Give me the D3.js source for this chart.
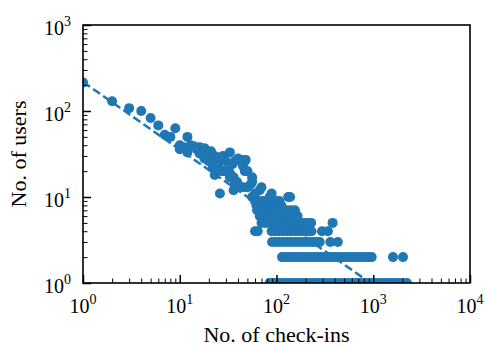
<!DOCTYPE html>
<html>
<head>
<meta charset="utf-8">
<style>
  body { margin: 0; background: #fff; }
  text { font-family: "Liberation Serif", "Times New Roman", serif; fill: #000; }
  .dot { fill: #1f77b4; }
  .fit { fill: none; stroke: #1f77b4; stroke-width: 2.5; stroke-dasharray: 8.5 3.8; }
</style>
</head>
<body>
<script src="https://cdn.jsdelivr.net/npm/d3@7"></script>
<script>
// scattered users (check-ins, users) pairs
var sparseCheckins = [1,2,3,4,5,6,7,8,9,10,10,11,12,12,13,14,15,16,16,17,18,18,19,20,20,21,22,22,23,23,24,24,25,26,26,27,28,29,30,31,33,33,33,35,36,36,37,37,39,40,40,42,44,45,45,47,47,48,50,50,54,56,56,56,57,60,67,70,85,89,97,132,138,72,76];
var sparseUsers    = [215,130,108,100,83,68,53,50,63,40,36,38,50,33,40,39,36,38,32,35,37,28,33,31,26,34,31,22,27,18,29,25,24,29,11,20,30,20,26,20,33,19,17,24,17,12,26,14,15,14,28,27,27,23,13,26,20,27,20,13,14,15,17,10,10,11,12,13,10,11,9,10,10,8,7];

// rows of users with the same count (check-in values per row)
var usersRow9 = [60,66,73,80,88,97,107];
var usersRow8 = [62,68,75,83,92,102,112];
var usersRow7 = [63,70,77,85,94,104,115,127,140,155];
var usersRow6 = [67,74,82,90,100,110,122,135,149,165];
var usersRow5 = [70,77,85,94,104,115,127,140,155,171,189,208,228,380];
var usersRow4 = [60,64,89,97,107,118,130,143,158,174,192,211,230,295,340];
var usersRow3 = [90,98,107,117,128,140,153,167,182,199,217,237,258,280,360,430];
var usersRow2 = [114,124,135,147,160,174,190,207,225,245,267,291,317,345,376,410,446,486,530,577,629,685,746,813,885,964,1600,2030];
var usersRow1 = [85,92,100,109,119,130,141,154,168,183,199,217,236,257,280,305,333,362,395,430,469,511,556,606,661,720,784,854,931,1014,1105,1204,1312,1430,1557,1697,1850,2015,2230];

// power law fit: users = fitA * checkins^fitB
var fitA = 218, fitB = -0.787;
var fitRange = [1, 1500];

var xExponents = [0, 1, 2, 3, 4];
var yExponents = [0, 1, 2, 3];

var margin = {top: 25, right: 15, bottom: 63, left: 83},
    width = 485 - margin.left - margin.right,
    height = 346 - margin.top - margin.bottom;

// collect all points
var points = sparseCheckins.map(function(c, i) { return {x: c, y: sparseUsers[i]}; });
[[9, usersRow9], [8, usersRow8], [7, usersRow7], [6, usersRow6], [5, usersRow5],
 [4, usersRow4], [3, usersRow3], [2, usersRow2], [1, usersRow1]].forEach(function(r) {
  r[1].forEach(function(c) { points.push({x: c, y: r[0]}); });
});

var x = d3.scaleLog().domain([1, 1e4]).range([0, width]);
var y = d3.scaleLog().domain([1, 1e3]).range([height, 0]);

var svg = d3.select("body").append("svg")
    .attr("width", 485)
    .attr("height", 346)
  .append("g")
    .attr("transform", "translate(" + margin.left + "," + margin.top + ")");

svg.append("defs").append("clipPath").attr("id", "plot")
  .append("rect").attr("width", width).attr("height", height);

var plot = svg.append("g").attr("clip-path", "url(#plot)");

plot.selectAll(".dot")
    .data(points)
  .enter().append("circle")
    .attr("class", "dot")
    .attr("cx", function(d) { return x(d.x); })
    .attr("cy", function(d) { return y(d.y); })
    .attr("r", 5);

var fitLine = d3.line()
    .x(function(d) { return x(d); })
    .y(function(d) { return y(fitA * Math.pow(d, fitB)); });

plot.append("path")
    .attr("class", "fit")
    .attr("d", fitLine(fitRange));

// ticks, pointing inwards
function minorTicks(exps) {
  var t = [];
  exps.slice(0, -1).forEach(function(e) {
    for (var k = 2; k < 10; k++) t.push(k * Math.pow(10, e));
  });
  return t;
}
var xMajor = xExponents.map(function(e) { return Math.pow(10, e); });
var yMajor = yExponents.map(function(e) { return Math.pow(10, e); });

function styleAxis(g, w) {
  g.select(".domain").remove();
  g.selectAll("line").attr("stroke", "#000").attr("stroke-width", w);
}

svg.append("g").attr("transform", "translate(0," + height + ")")
    .call(d3.axisBottom(x).tickValues(minorTicks(xExponents)).tickSize(-4.5).tickFormat(""))
    .call(styleAxis, 1);
svg.append("g").attr("transform", "translate(0," + height + ")")
    .call(d3.axisBottom(x).tickValues(xMajor).tickSize(-8).tickFormat(""))
    .call(styleAxis, 1.5);
svg.append("g")
    .call(d3.axisLeft(y).tickValues(minorTicks(yExponents)).tickSize(-4.5).tickFormat(""))
    .call(styleAxis, 1);
svg.append("g")
    .call(d3.axisLeft(y).tickValues(yMajor).tickSize(-8).tickFormat(""))
    .call(styleAxis, 1.5);

// frame
svg.append("rect")
    .attr("width", width)
    .attr("height", height)
    .attr("fill", "none")
    .attr("stroke", "#000")
    .attr("stroke-width", 1.6);

// tick labels as 10^n
function powerLabel(sel) {
  sel.append("tspan").text("10");
  sel.append("tspan")
      .attr("dy", -9)
      .style("font-size", "14px")
      .text(function(d) { return d; });
}

svg.selectAll(".xlabel")
    .data(xExponents)
  .enter().append("text")
    .attr("class", "xlabel")
    .attr("x", function(d) { return x(Math.pow(10, d)); })
    .attr("y", height + 30)
    .attr("text-anchor", "middle")
    .style("font-size", "20px")
    .call(powerLabel);

svg.selectAll(".ylabel")
    .data(yExponents)
  .enter().append("text")
    .attr("class", "ylabel")
    .attr("x", -12)
    .attr("y", function(d) { return y(Math.pow(10, d)) + 10; })
    .attr("text-anchor", "end")
    .style("font-size", "20px")
    .call(powerLabel);

// axis titles
svg.append("text")
    .attr("x", width / 2)
    .attr("y", height + 59)
    .attr("text-anchor", "middle")
    .style("font-size", "22px")
    .text("No. of check-ins");

svg.append("text")
    .attr("transform", "translate(" + (26 - margin.left) + "," + (height / 2) + ") rotate(-90)")
    .attr("text-anchor", "middle")
    .style("font-size", "22px")
    .text("No. of users");
</script>
</body>
</html>
